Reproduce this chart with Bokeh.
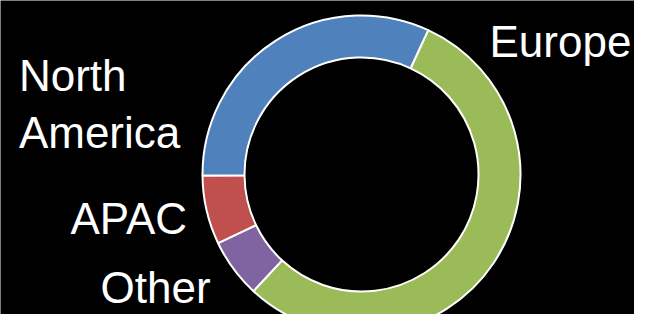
import math
from bokeh.plotting import figure
from bokeh.models import Range1d, ColumnDataSource
from bokeh.core.properties import value
from bokeh.embed import file_html
from bokeh.resources import INLINE

# ---- data (clockwise order starting at the Europe/North America border) ----
categories = ["Europe", "Other", "APAC", "North America"]
shares = [55, 6, 7, 32]
colors = ["#9BBB59", "#8064A2", "#C0504D", "#4F81BD"]

# ---- layout ----
START_DEG = 65.2
R_OUT, R_IN = 159, 117
FONT_PX = 44
LINE_GAP = 57.6
TEXT_SHIFT = 17  # compensates renderer baseline offset
# label anchors (left / baseline of first line), pixel offsets from centre
label_anchor = {
    "Europe": (128, 115.7),
    "Other": (-261, -130.0),
    "APAC": (-291, -61),
    "North America": (-342.6, 82.3),
}

total = sum(shares)
starts, ends = [], []
a = math.radians(START_DEG)
for s in shares:
    span = 2 * math.pi * s / total
    starts.append(a)
    ends.append(a - span)
    a -= span

src = ColumnDataSource(dict(start=starts, end=ends, color=colors, cat=categories))

W, H = 634, 314
p = figure(width=W, height=H, output_backend="svg", toolbar_location=None,
           x_range=Range1d(-361, 273), y_range=Range1d(-140, 174),
           min_border=0, background_fill_color="black", border_fill_color="black",
           outline_line_color=None)
p.axis.visible = False
p.grid.visible = False

p.annular_wedge(x=0, y=0, inner_radius=R_IN, outer_radius=R_OUT,
                start_angle="start", end_angle="end", direction="clock",
                fill_color="color", line_color="white", line_width=2, source=src)

tx, ty, tt = [], [], []
for c in categories:
    x0, y0 = label_anchor[c]
    words = c.split(" ")
    for i, w in enumerate(words):
        tx.append(x0)
        ty.append(y0 + TEXT_SHIFT - i * LINE_GAP)
        tt.append(w)

p.text(x=tx, y=ty, text=tt, text_color="white", text_font=value("Liberation Sans"),
       text_font_size=f"{FONT_PX}px", text_align="left", text_baseline="alphabetic")

html = file_html(p, INLINE)
html = html.replace("<body>", '<body style="background:black">', 1)
open("out.html", "w").write(html)
